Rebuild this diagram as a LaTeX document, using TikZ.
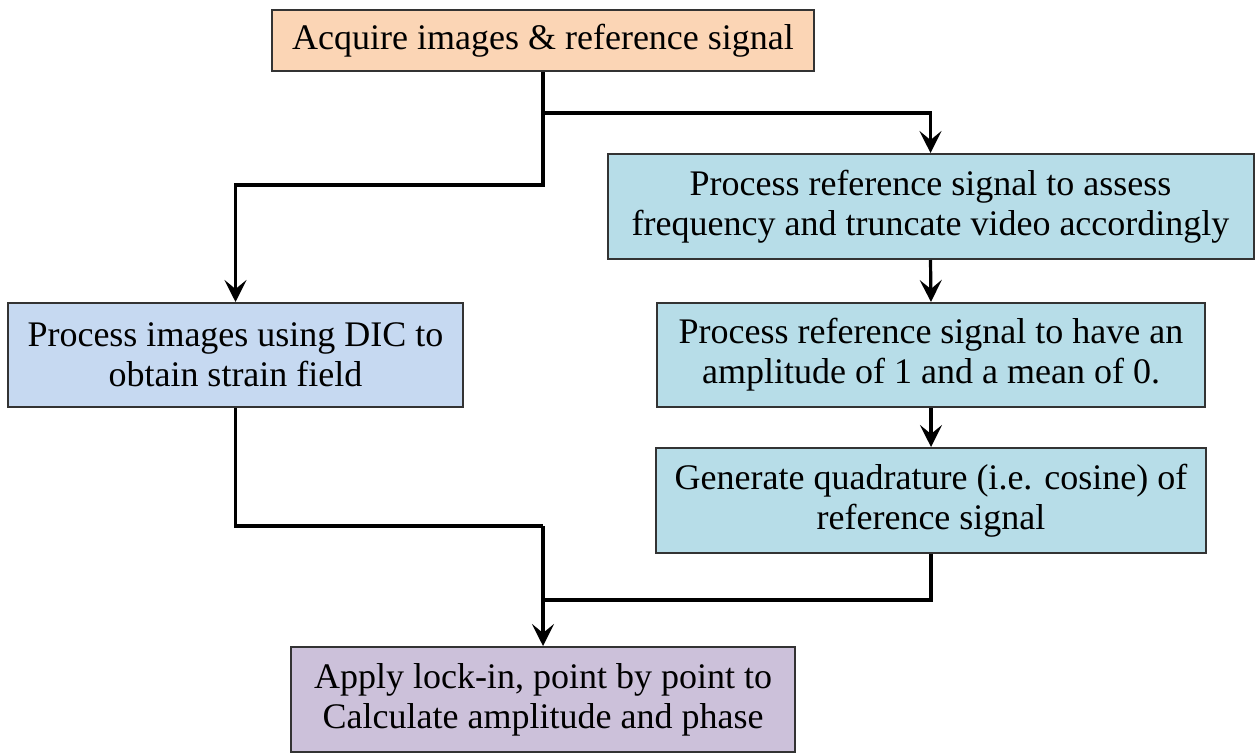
\documentclass[tikz,border=0pt]{standalone}
\usepackage{fontspec}
\setmainfont{Liberation Serif}
\usetikzlibrary{arrows.meta}
\definecolor{peach}{RGB}{251,213,181}
\definecolor{paleblue}{RGB}{198,217,241}
\definecolor{aqua}{RGB}{183,221,232}
\definecolor{lilac}{RGB}{204,193,218}
\begin{document}
\begin{tikzpicture}[x=1pt,y=-1pt,
    box/.style={draw=black!80,line width=2pt,inner sep=0pt,align=center,
                font=\fontsize{36}{40}\selectfont},
    link/.style={line width=3.2pt},
    arr/.style={link,-{Stealth[length=22pt,width=22pt,inset=9pt]}}]
            \useasboundingbox (0,0) rectangle (1255,754);
            \node[box,fill=peach,minimum width=542,minimum height=61] (acquire) at (543,40.5)
                {Acquire images \& reference signal};
            \node[box,fill=paleblue,minimum width=455,minimum height=104] (dic) at (235.5,355)
                {Process images using DIC to\\obtain strain field};
            \node[box,fill=aqua,minimum width=646,minimum height=105] (freq) at (930.5,206.5)
                {Process reference signal to assess\\frequency and truncate video accordingly};
            \node[box,fill=aqua,minimum width=548,minimum height=104] (unit) at (931,355)
                {Process reference signal to have an\\amplitude of 1 and a mean of 0.};
            \node[box,fill=aqua,minimum width=550,minimum height=105] (quad) at (931,500.5)
                {Generate quadrature (i.e. cosine) of\\reference signal};
            \node[box,fill=lilac,minimum width=504,minimum height=105] (lockin) at (543,699.5)
                {Apply lock-in, point by point to\\Calculate amplitude and phase};
            \coordinate (fork) at (543,113);
            \coordinate (bend) at (543,185);
            \coordinate (meet) at (543,526);
            \coordinate (join) at (543,600);
            \draw[arr] (acquire.south) -- (bend) -| (dic.north);
            \draw[arr] (fork) -| (freq.north);
            \draw[arr] (freq.south) -- (unit.north);
            \draw[arr] (unit.south) -- (quad.north);
            \draw[link] (dic.south) |- (meet);
            \draw[link] (quad.south) |- (join);
            \draw[arr] (meet) -- (lockin.north);
        \end{tikzpicture}
\end{document}
